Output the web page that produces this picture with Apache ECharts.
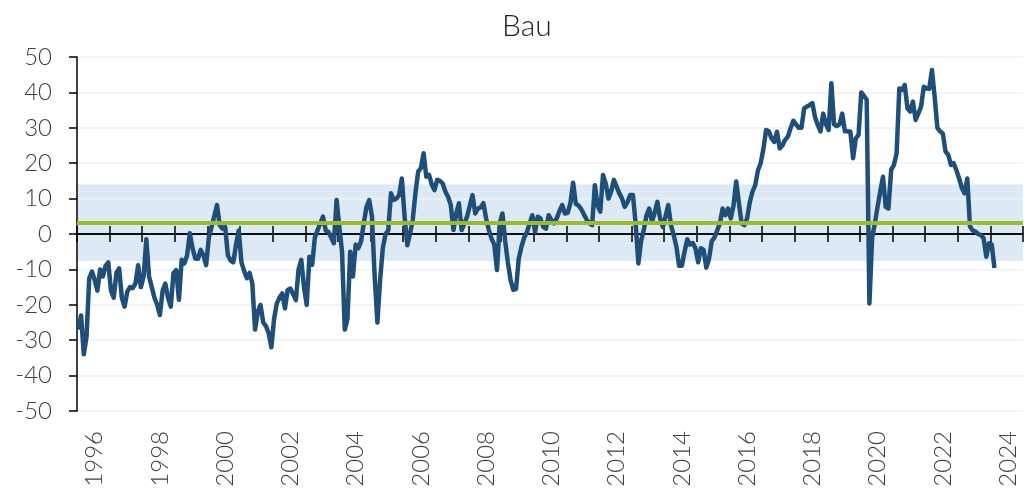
<!DOCTYPE html>
<html>
<head>
<meta charset="utf-8">
<title>Bau</title>
<script src="https://cdn.jsdelivr.net/npm/echarts@6/dist/echarts.min.js"></script>
<style>
  html, body { margin: 0; padding: 0; background: #fff; }
  #chart { width: 1024px; height: 494px; }
</style>
</head>
<body>
<div id="chart"></div>
<script>
// monthly values, Jan 1996 .. Feb 2024 (one row per year)
const bau = [
  -27, -23, -34, -29, -12.5, -10.6, -13, -16, -10, -12, -9, -8,          // 1996
  -16, -18, -11, -9.7, -18, -20.5, -16.3, -15, -15.3, -14, -8.8, -15,    // 1997
  -12, -1.5, -12, -15, -18, -20, -22.9, -16, -14, -18, -20.5, -11,       // 1998
  -10.2, -18.6, -7.3, -8.3, -6, 0.2, -4, -6.9, -7, -4.5, -6, -8.8,       // 1999
  -1, 2, 5, 8.2, 2.5, 1.5, 2, -6, -7.5, -8, -3, 1,                       // 2000
  -8, -10.5, -12.5, -11, -14, -27, -22, -20, -25, -26, -28, -32,         // 2001
  -24, -19.6, -18, -16.8, -21, -15.8, -15.4, -17, -18.7, -10, -7.3, -15, // 2002
  -20, -6.4, -8.7, -1, 1.1, 3, 4.9, 1, 0.6, -1, -2.6, 9.6,               // 2003
  2, -5, -27, -24, -5, -12, -3, -4, -2, 3, 7.7, 9.6,                     // 2004
  5, -12, -25, -13, -4, 0, 1, 11.5, 9.6, 10, 11, 15.7,                   // 2005
  5, -3.2, 0, 4, 11.5, 17.6, 18.6, 22.8, 16.2, 16.7, 14, 12.4,           // 2006
  15.3, 15, 14.3, 12, 10.5, 8.2, 1.1, 5.8, 8.7, 1.1, 3, 4.9,             // 2007
  8, 11, 5.8, 7.2, 7.5, 8.7, 4.4, 1.1, -1.3, -3, -10.2, 3,               // 2008
  5.8, -2, -8, -13, -15.8, -15.5, -7, -3.6, -1, 0.5, 3, 5.3,             // 2009
  0.6, 4.9, 4.4, 2, 1.5, 5.3, 4, 3, 4.5, 6.5, 8.2, 5.8,                  // 2010
  6, 8.7, 14.5, 8.5, 8, 7, 5.5, 4, 3, 2.5, 13.8, 8,                      // 2011
  6.3, 16.7, 14.3, 10, 12, 15.3, 13.4, 11.5, 10, 7.7, 9, 11,             // 2012
  11, 3, -8.3, -2, 1.1, 5.3, 7.2, 3.4, 6, 9.1, 4.4, 2,                   // 2013
  5, 8.2, 2.5, -0.3, -3.6, -9, -9, -5, -1.5, -3, -2.6, -4,               // 2014
  -8, -4, -4.5, -9.5, -7, -2, -1, 1, 3, 7.2, 5.3, 7.2,                   // 2015
  4.4, 8, 14.8, 8.7, 3, 2.5, 4.4, 9, 12, 13.8, 18, 20,                   // 2016
  24, 29.4, 29, 27, 26, 28.9, 24.2, 25, 26.6, 27.5, 29.9, 32,            // 2017
  31, 30, 30, 35.5, 36, 36.4, 37, 33, 30.8, 29, 34, 31,                  // 2018
  29.4, 42.6, 31, 30.5, 31, 34, 29, 29, 28.9, 21.4, 27, 28,              // 2019
  40, 39, 37.9, -19.6, -1, 3, 7.7, 12, 16.2, 7.7, 7.2, 18.1,             // 2020
  19.5, 22.8, 41.1, 40.7, 42.1, 35.5, 34.6, 37.4, 32.2, 34.1, 36, 41.6,  // 2021
  41.1, 41, 46.3, 38.8, 30, 29, 28.4, 23.3, 22.4, 19.5, 20, 18,          // 2022
  15.7, 13, 11.5, 15.7, 2.1, 1, 0.7, 0, -0.3, -1.2, -6.4, -2.6,          // 2023
  -3, -9.6                                                               // 2024
]

const firstYear = 1996
const lastYear = 2024
const meanValue = 3.2
const bandLow = -7.6
const bandHigh = 14.0

// month categories for the whole axis (1996-01 .. 2024-12)
const months = []
for (let y = firstYear; y <= lastYear; y++) {
  for (let m = 1; m <= 12; m++) {
    months.push(y + '-' + (m < 10 ? '0' + m : m))
  }
}

const labelFont = 'Lato, "DejaVu Sans", sans-serif'

const chart = echarts.init(document.getElementById('chart'))

const option = {
  animation: false,
  title: {
    text: 'Bau',
    left: 497,
    top: 6,
    textStyle: {
      fontFamily: labelFont,
      fontWeight: 300,
      fontSize: 30,
      color: '#222'
    }
  },
  grid: [
    { left: 77, right: 1, top: 57, bottom: 83 },
    { left: 77, right: 1, top: 57, bottom: 83 }
  ],
  xAxis: [
    {
      // year labels at the bottom
      type: 'category',
      gridIndex: 0,
      position: 'bottom',
      data: months,
      axisLine: { show: false, onZero: false },
      axisTick: { show: false },
      splitLine: { show: false },
      axisLabel: {
        rotate: 90,
        margin: 20,
        fontFamily: labelFont,
        fontWeight: 300,
        fontSize: 24,
        color: '#404040',
        interval: (i) => i % 24 === 6,
        formatter: (v) => v.slice(0, 4)
      }
    },
    {
      // zero line with ticks pointing up
      type: 'category',
      gridIndex: 0,
      position: 'top',
      z: 2,
      data: months,
      axisLine: { show: true, onZero: true, lineStyle: { color: '#000', width: 1.5 } },
      axisTick: { show: true, length: 8, interval: (i) => i % 12 === 0, lineStyle: { color: '#000', width: 1.5 } },
      axisLabel: { show: false },
      splitLine: { show: false }
    },
    {
      // same zero line, ticks pointing down
      type: 'category',
      gridIndex: 1,
      position: 'bottom',
      z: 2,
      data: months,
      axisLine: { show: true, onZero: true, lineStyle: { color: '#000', width: 1.5 } },
      axisTick: { show: true, length: 8, interval: (i) => i % 12 === 0, lineStyle: { color: '#000', width: 1.5 } },
      axisLabel: { show: false },
      splitLine: { show: false }
    }
  ],
  yAxis: [
    {
      type: 'value',
      gridIndex: 0,
      z: 2,
      min: -50,
      max: 50,
      interval: 10,
      axisLine: { show: true, lineStyle: { color: '#000', width: 1.5 } },
      axisTick: { show: true, length: 8, lineStyle: { color: '#000', width: 1.5 } },
      axisLabel: {
        margin: 25,
        fontFamily: labelFont,
        fontWeight: 300,
        fontSize: 24,
        color: '#404040'
      },
      splitLine: { show: true, lineStyle: { color: '#eef2f2', width: 1.5 } }
    },
    {
      type: 'value',
      gridIndex: 1,
      min: -50,
      max: 50,
      show: false
    }
  ],
  series: [
    {
      // +/- band
      type: 'line',
      xAxisIndex: 0,
      yAxisIndex: 0,
      data: [],
      z: 1,
      silent: true,
      markArea: {
        silent: true,
        itemStyle: { color: '#dde9f5' },
        data: [[{ yAxis: bandLow }, { yAxis: bandHigh }]]
      }
    },
    {
      name: 'Bau',
      type: 'line',
      xAxisIndex: 0,
      yAxisIndex: 0,
      data: bau,
      z: 3,
      symbol: 'none',
      smooth: false,
      lineStyle: { color: '#1f4e79', width: 4.5, join: 'round' }
    },
    {
      // long-run mean
      type: 'line',
      xAxisIndex: 0,
      yAxisIndex: 0,
      data: [],
      z: 4,
      silent: true,
      markLine: {
        silent: true,
        symbol: 'none',
        label: { show: false },
        lineStyle: { color: '#9bbb2f', width: 4, type: 'solid' },
        data: [{ yAxis: meanValue }]
      }
    }
  ]
}

chart.setOption(option)
</script>
</body>
</html>
